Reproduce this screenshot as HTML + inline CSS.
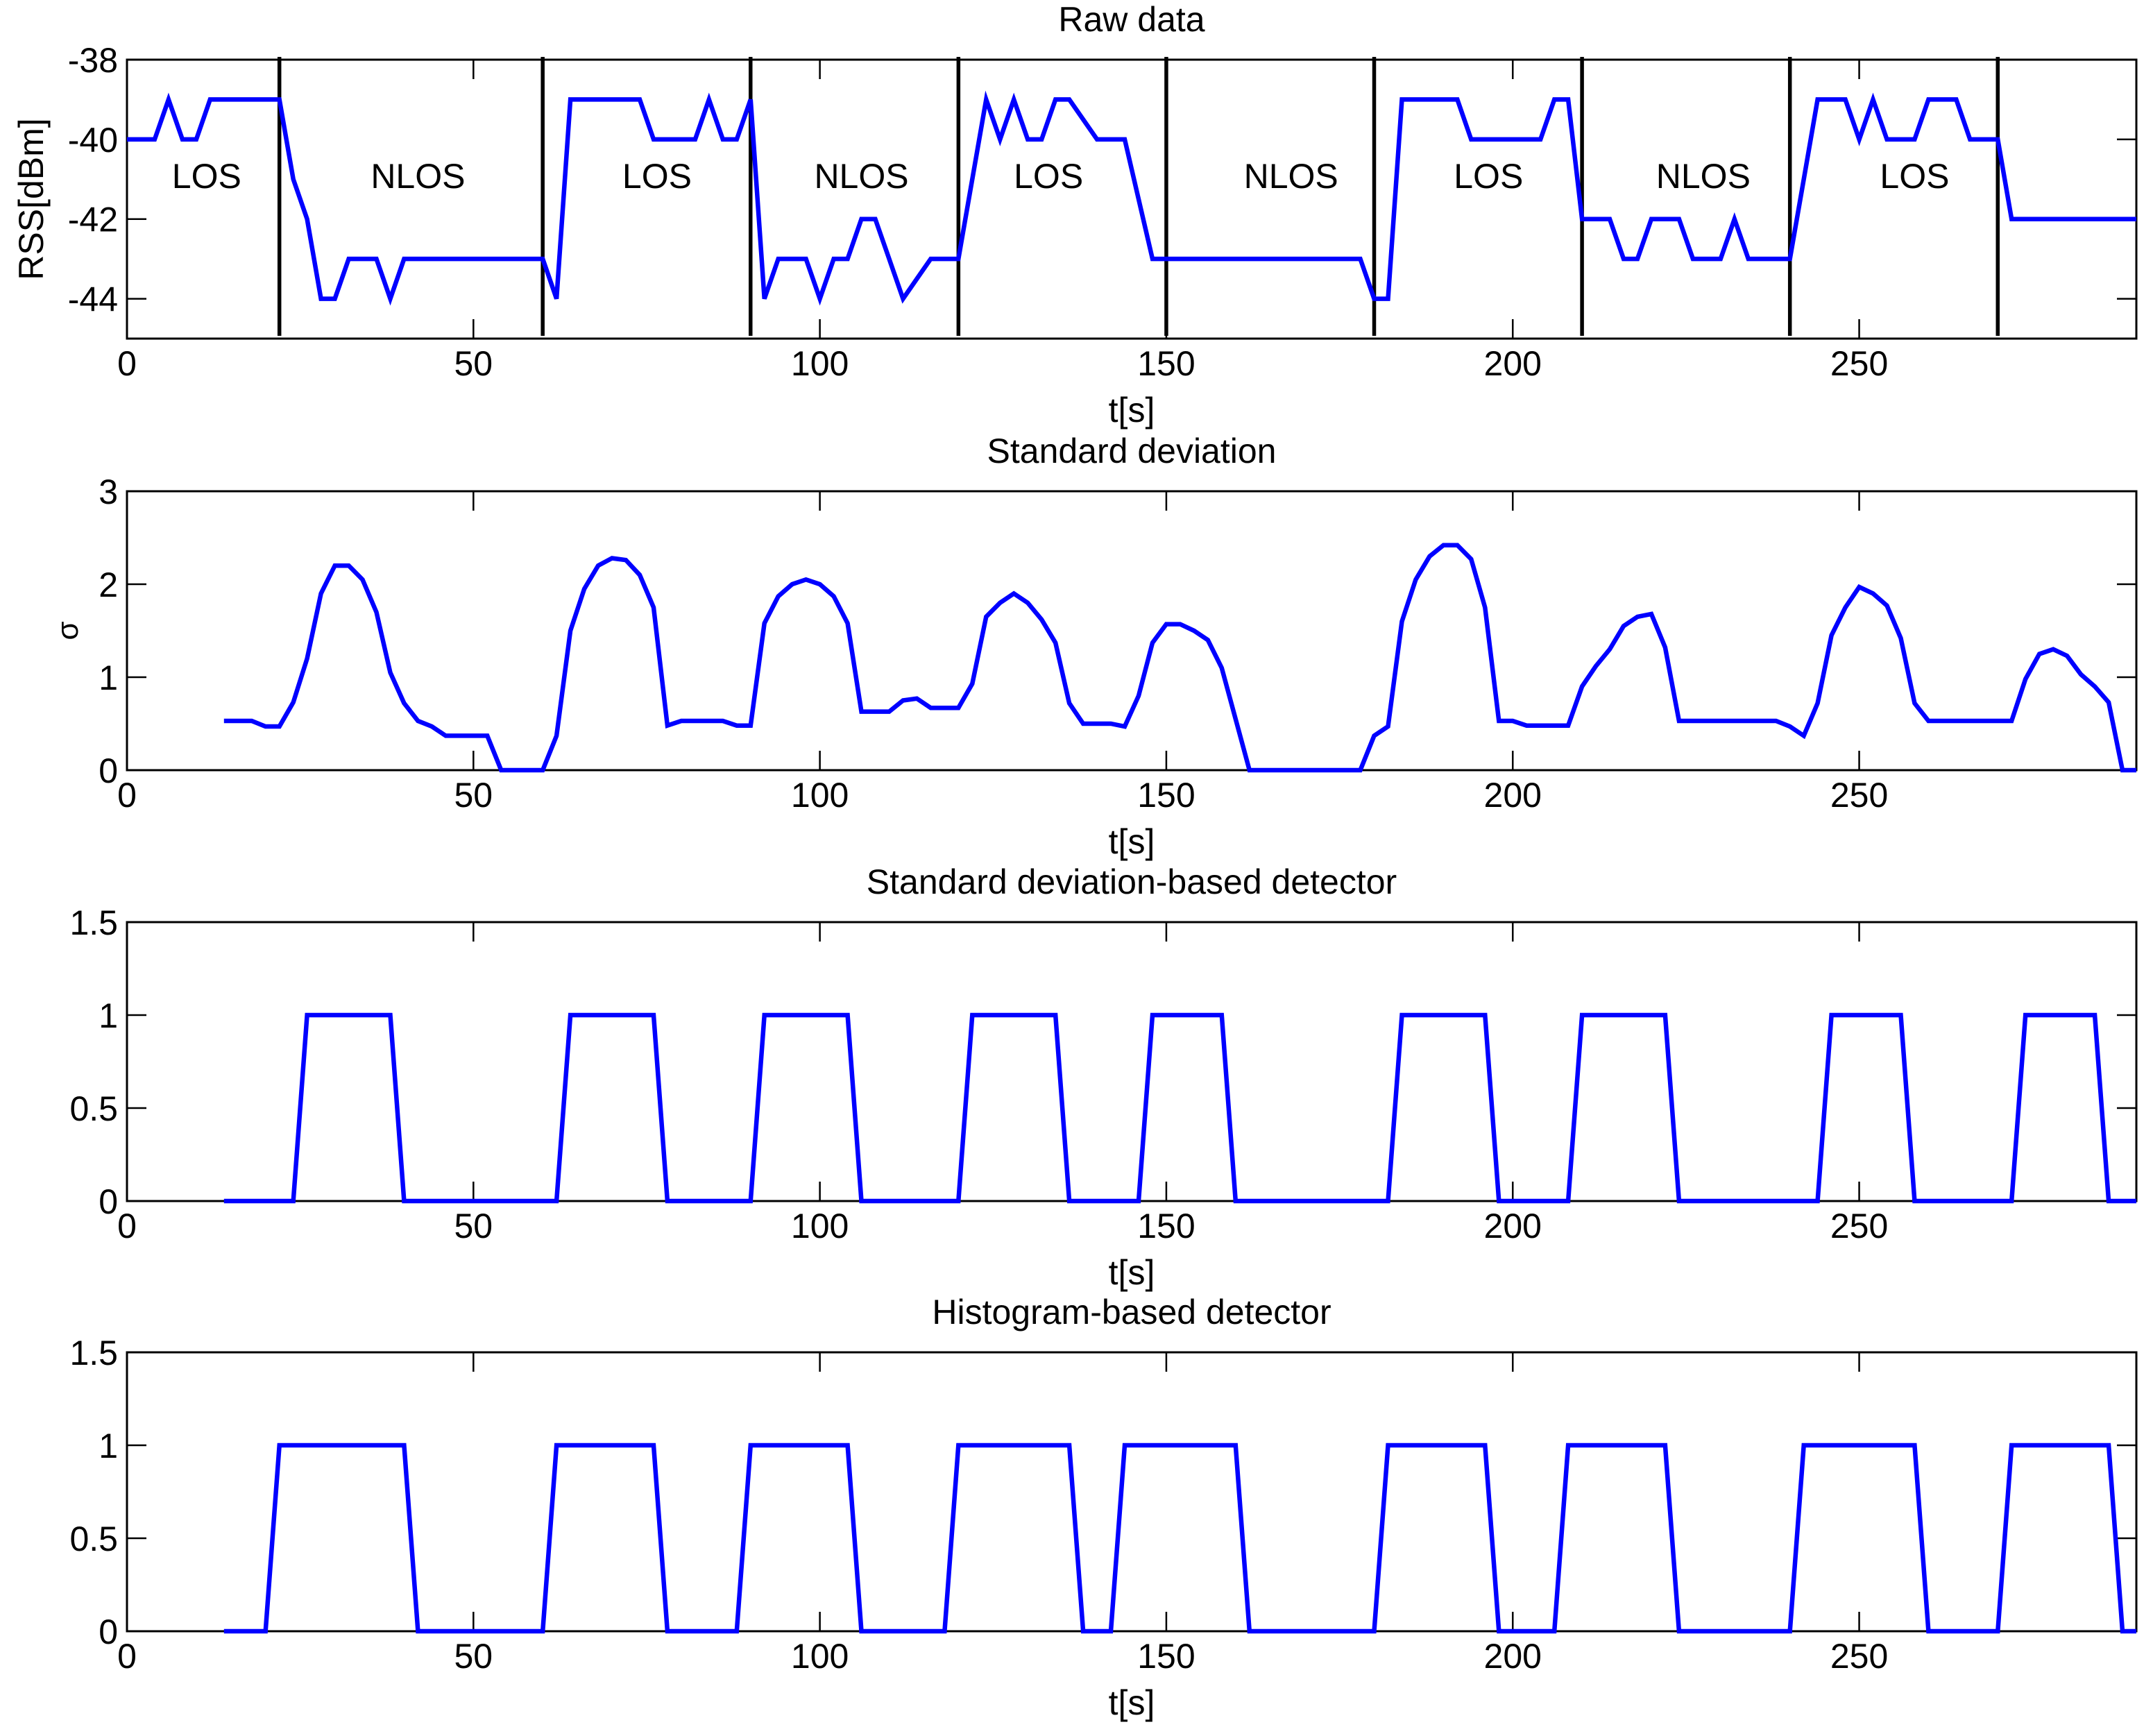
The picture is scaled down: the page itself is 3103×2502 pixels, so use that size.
<!DOCTYPE html>
<html><head><meta charset="utf-8"><style>
html,body{margin:0;padding:0;background:#fff;}
svg{display:block;font-family:"Liberation Sans",Arial,sans-serif;}
</style></head><body>
<svg id="chart" width="3103" height="2502" viewBox="0 0 3103 2502" xmlns="http://www.w3.org/2000/svg"></svg>
<script>
// ---- data ----
const rawT = [0,4,6,8,10,12,22,24,26,28,30,32,36,38,40,60,62,64,74,76,82,84,86,88,90,92,94,98,100,102,104,106,108,110,112,114,116,120,124,126,128,130,132,134,136,138,140,144,148,178,180,182,184,192,194,204,206,208,210,214,216,218,220,224,226,230,232,234,240,242,244,248,250,252,254,258,260,264,266,270,272,290];
const rawV = [-40,-40,-39,-40,-40,-39,-39,-41,-42,-44,-44,-43,-43,-44,-43,-43,-44,-39,-39,-40,-40,-39,-40,-40,-39,-44,-43,-43,-44,-43,-43,-42,-42,-43,-44,-43.5,-43,-43,-39,-40,-39,-40,-40,-39,-39,-39.5,-40,-40,-43,-43,-44,-44,-39,-39,-40,-40,-39,-39,-42,-42,-43,-43,-42,-42,-43,-43,-42,-43,-43,-41,-39,-39,-40,-39,-40,-40,-39,-39,-40,-40,-42,-42];
const boundaries = [22,60,90,120,150,180,210,240,270];
const regionLabels = ["LOS","NLOS","LOS","NLOS","LOS","NLOS","LOS","NLOS","LOS"];
const regionCenters = [11.5,42,76.5,106,133,168,196.5,227.5,258];
const sdT = [14,18,20,22,24,26,28,30,32,34,36,38,40,42,44,46,52,54,60,62,64,66,68,70,72,74,76,78,80,86,88,90,92,94,96,98,100,102,104,106,110,112,114,116,120,122,124,126,128,130,132,134,136,138,142,144,146,148,150,152,154,156,158,162,178,180,182,184,186,188,190,192,194,196,198,200,202,208,210,212,214,216,218,220,222,224,238,240,242,244,246,248,250,252,254,256,258,260,272,274,276,278,280,282,284,286,288,290];
const sdV = [0.53,0.53,0.47,0.47,0.73,1.2,1.9,2.2,2.2,2.05,1.7,1.05,0.72,0.53,0.47,0.37,0.37,0,0,0.37,1.5,1.95,2.2,2.28,2.26,2.1,1.75,0.48,0.53,0.53,0.48,0.48,1.58,1.87,2.0,2.05,2.0,1.87,1.58,0.63,0.63,0.75,0.77,0.67,0.67,0.93,1.65,1.8,1.9,1.8,1.62,1.37,0.72,0.5,0.5,0.47,0.8,1.37,1.57,1.57,1.5,1.4,1.1,0,0,0.37,0.47,1.6,2.05,2.3,2.42,2.42,2.27,1.75,0.53,0.53,0.48,0.48,0.9,1.12,1.3,1.55,1.65,1.68,1.32,0.53,0.53,0.47,0.37,0.72,1.45,1.75,1.97,1.9,1.77,1.42,0.72,0.53,0.53,0.98,1.25,1.3,1.23,1.03,0.9,0.73,0,0];
const det1T = [14,24,26,38,40,62,64,76,78,90,92,104,106,120,122,134,136,146,148,158,160,182,184,196,198,208,210,222,224,244,246,256,258,272,274,284,286,290];
const det1V = [0,0,1,1,0,0,1,1,0,0,1,1,0,0,1,1,0,0,1,1,0,0,1,1,0,0,1,1,0,0,1,1,0,0,1,1,0,0];
const det2T = [14,20,22,40,42,60,62,76,78,88,90,104,106,118,120,136,138,142,144,160,162,180,182,196,198,206,208,222,224,240,242,258,260,270,272,286,288,290];
const det2V = [0,0,1,1,0,0,1,1,0,0,1,1,0,0,1,1,0,0,1,1,0,0,1,1,0,0,1,1,0,0,1,1,0,0,1,1,0,0];
const xTicks = [0,50,100,150,200,250];
const y1Ticks = [-38,-40,-42,-44];
const y2Ticks = [0,1,2,3];
const y3Ticks = [0,0.5,1,1.5];
const y3Labels = ["0","0.5","1","1.5"];

// ---- layout ----
const svg = document.getElementById('chart');
const NS = 'http://www.w3.org/2000/svg';
const L = 183, R = 3079, H = 402, XMAX = 290;
function mk(tag, attrs, parent){const e=document.createElementNS(NS,tag);for(const k in attrs)e.setAttribute(k,attrs[k]);(parent||svg).appendChild(e);return e;}
function xs(t){return L + (t/XMAX)*(R-L);}

const panels = [
  {top:86, ymin:-45, ymax:-38, ticks:y1Ticks, labels:y1Ticks.map(String), title:"Raw data", name:"raw-data", ylabel:"RSS[dBm]", T:rawT, V:rawV},
  {top:708, ymin:0, ymax:3, ticks:y2Ticks, labels:y2Ticks.map(String), title:"Standard deviation", name:"std-dev", ylabel:"σ", T:sdT, V:sdV},
  {top:1329, ymin:0, ymax:1.5, ticks:y3Ticks, labels:y3Labels, title:"Standard deviation-based detector", name:"std-detector", ylabel:"", T:det1T, V:det1V},
  {top:1949, ymin:0, ymax:1.5, ticks:y3Ticks, labels:y3Labels, title:"Histogram-based detector", name:"hist-detector", ylabel:"", T:det2T, V:det2V}
];

panels.forEach((p, idx)=>{
  const g = mk('g',{});
  
  
  const B = p.top + H;
  const ys = v => B - (v-p.ymin)/(p.ymax-p.ymin)*H;
  const frame = mk('rect',{x:L,y:p.top,width:R-L,height:H,fill:'#fff',stroke:'#000','stroke-width':3},g);
  
  
  // x ticks
  xTicks.forEach(t=>{
    const x = xs(t);
    mk('line',{x1:x,y1:B,x2:x,y2:B-28,stroke:'#000','stroke-width':2.5},g);
    mk('line',{x1:x,y1:p.top,x2:x,y2:p.top+28,stroke:'#000','stroke-width':2.5},g);
    const tx = mk('text',{x:x,y:B+53,'font-size':50,'text-anchor':'middle',fill:'#000'},g);
    tx.textContent = String(t);
    
    
  });
  // y ticks
  p.ticks.forEach((v,i)=>{
    const y = ys(v);
    mk('line',{x1:L,y1:y,x2:L+28,y2:y,stroke:'#000','stroke-width':2.5},g);
    mk('line',{x1:R,y1:y,x2:R-28,y2:y,stroke:'#000','stroke-width':2.5},g);
    const ty = mk('text',{x:170,y:y+18,'font-size':50,'text-anchor':'end',fill:'#000'},g);
    ty.textContent = p.labels[i];
    
    
  });
  // title
  const tt = mk('text',{x:(L+R)/2,y:p.top-41,'font-size':50,'text-anchor':'middle',fill:'#000'},g);
  tt.textContent = p.title;
  
  
  // x label
  const xl = mk('text',{x:(L+R)/2,y:B+120,'font-size':50,'text-anchor':'middle',fill:'#000'},g);
  xl.textContent = 't[s]';
  
  
  // y label
  if (p.ylabel){
    const cy = p.top + H/2;
    const cx = idx===0 ? 62 : 112;
    const yl = mk('text',{x:cx,y:cy,'font-size':idx===0?50:44,'text-anchor':'middle',fill:'#000',transform:`rotate(-90 ${cx} ${cy})`},g);
    yl.textContent = p.ylabel;
    
    
  }
  // boundaries + region labels in raw panel
  if (idx===0){
    boundaries.forEach(t=>{
      const bl = mk('line',{x1:xs(t),y1:p.top-4,x2:xs(t),y2:B-4,stroke:'#000','stroke-width':5.5},g);
      
      
    });
    regionLabels.forEach((lab,i)=>{
      const rt = mk('text',{x:xs(regionCenters[i]),y:271,'font-size':50,'text-anchor':'middle',fill:'#000'},g);
      rt.textContent = lab;
      
      
    });
  }
  // series
  const d = p.T.map((t,i)=>(i?'L':'M')+xs(t).toFixed(1)+' '+ys(p.V[i]).toFixed(1)).join(' ');
  const line = mk('path',{d:d,fill:'none',stroke:'#0000ff','stroke-width':6.5,'stroke-linejoin':'miter'},g);
  
  
});
</script>
</body></html>
